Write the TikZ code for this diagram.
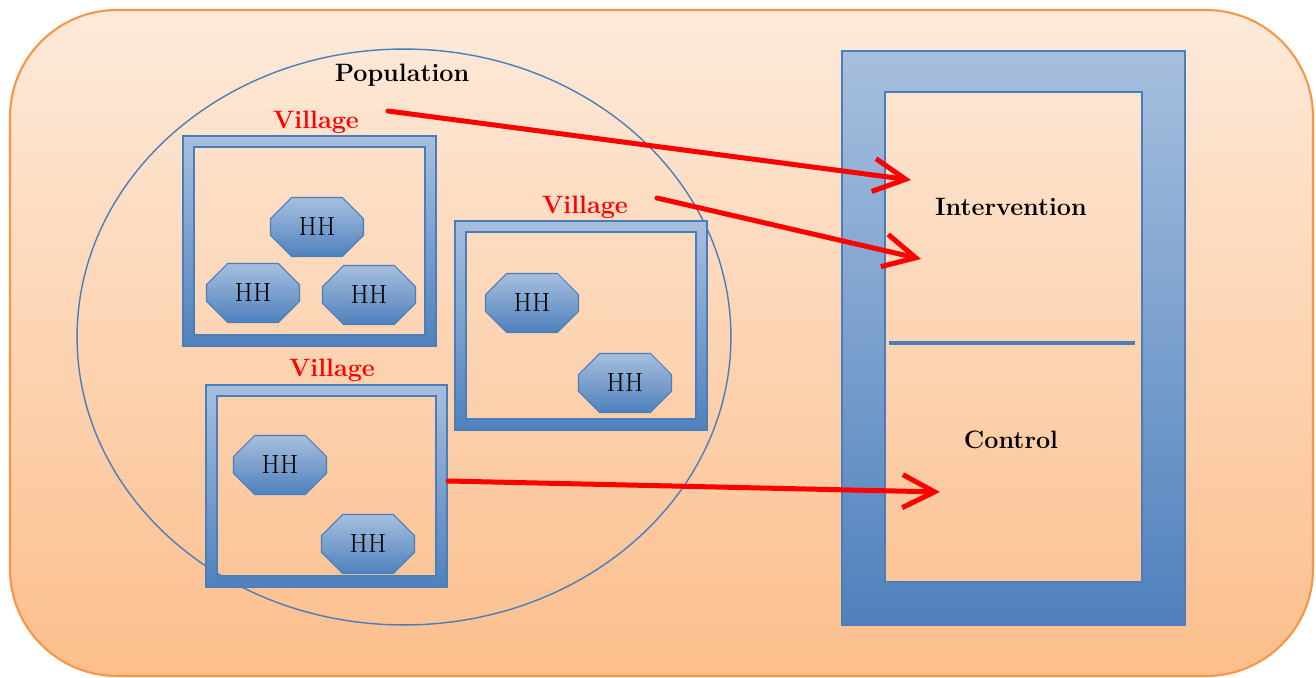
\documentclass[tikz,border=0pt]{standalone}
\usepackage{tikz}
\usetikzlibrary{positioning, shapes.geometric, shapes.misc, arrows.meta}

\definecolor{peachtop}{RGB}{253,234,218}
\definecolor{peachbot}{RGB}{252,190,140}
\definecolor{panelline}{RGB}{247,150,70}
\definecolor{bluetop}{RGB}{167,191,222}
\definecolor{bluebot}{RGB}{79,129,189}
\definecolor{blueline}{RGB}{74,126,187}

\begin{document}
\begin{tikzpicture}[
    % GLOBAL SETTINGS
    x=0.02cm, y=-0.02cm,
    % STYLES
    panel/.style={draw=panelline, line width=1.2pt, top color=peachtop, bottom color=peachbot, rounded corners=2.14cm},
    population/.style={ellipse, draw=blueline, line width=0.8pt, minimum width=13.08cm, minimum height=11.52cm, inner sep=0pt},
    frame/.style={even odd rule, top color=bluetop, bottom color=bluebot},
    frame_line/.style={draw=blueline, line width=0.6pt},
    divider/.style={draw=blueline, line width=0.08cm},
    hh/.style={chamfered rectangle, chamfered rectangle xsep=0.24cm, chamfered rectangle ysep=0.24cm, draw=blueline, line width=0.6pt, top color=bluetop, bottom color=bluebot, minimum width=1.86cm, minimum height=1.18cm, inner sep=0pt, font=\fontsize{15}{17}\selectfont},
    title/.style={font=\fontsize{14.3}{16}\selectfont\bfseries},
    village_label/.style={title, text=red},
    link/.style={draw=red, line width=0.1cm, line cap=round, line join=round, -{Straight Barb[length=0.64cm, width=0.66cm]}}
]

    \useasboundingbox (0,0) rectangle (1316,678);

    % background panel
    \path[panel] (10,10) rectangle (1313,676);

    % population
    \node[population] (population) at (404,337) {};
    \node[title] (poplab) at (402,75) {Population};

    % village frames
    \foreach \xa/\ya/\xb/\yb in {183/136/436/346, 455/221/707/430, 206/385/447/587} {
        \path[frame] (\xa,\ya) rectangle (\xb,\yb) (\xa+11,\ya+11) rectangle (\xb-11,\yb-11);
        \draw[frame_line] (\xa,\ya) rectangle (\xb,\yb);
        \draw[frame_line] (\xa+11,\ya+11) rectangle (\xb-11,\yb-11);
    }

    \node[village_label] (v1lab) at (316,122) {Village};
    \node[village_label] (v2lab) at (585,207) {Village};
    \node[village_label] (v3lab) at (332,370) {Village};

    % households
    \foreach \name/\px/\py in {hh1a/317/227, hh1b/253/293, hh1c/369/295, hh2a/532/303, hh2b/625/383, hh3a/280/465, hh3b/368/544} {
        \node[hh] (\name) at (\px,\py) {HH};
    }

    % study arms
    \path[frame] (842,51) rectangle (1185,625) (885,92) rectangle (1142,582);
    \draw[frame_line] (842,51) rectangle (1185,625);
    \draw[frame_line] (885,92) rectangle (1142,582);

    \coordinate (div_l) at (889,343);
    \coordinate (div_r) at (1135,343);
    \draw[divider] (div_l) -- (div_r);

    \node[title] (intervention) at (1011,207) {Intervention};
    \node[title] (control) at (1011,440) {Control};

    % allocation
    \coordinate (src1) at (388,111);
    \coordinate (src2) at (657,198);
    \coordinate (src3) at (448,481);
    \coordinate (dst1) at (911,180);
    \coordinate (dst2) at (921,259);
    \coordinate (dst3) at (940,492);

    \draw[link] (src1) -- (dst1);
    \draw[link] (src2) -- (dst2);
    \draw[link] (src3) -- (dst3);

\end{tikzpicture}
\end{document}
